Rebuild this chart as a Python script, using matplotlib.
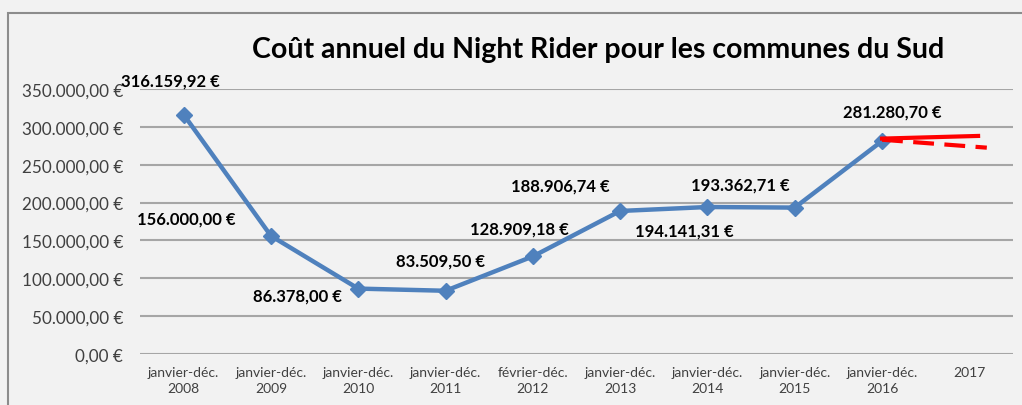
import matplotlib.pyplot as plt
from matplotlib.patches import Rectangle

categories = ['janvier-déc.\n2008', 'janvier-déc.\n2009', 'janvier-déc.\n2010', 'janvier-déc.\n2011',
              'février-déc.\n2012', 'janvier-déc.\n2013', 'janvier-déc.\n2014', 'janvier-déc.\n2015',
              'janvier-déc.\n2016', '2017']
costs = [316159.92, 156000.00, 86378.00, 83509.50, 128909.18, 188906.74, 194141.31, 193362.71, 281280.70]
labels = ['316.159,92 €', '156.000,00 €', '86.378,00 €', '83.509,50 €', '128.909,18 €',
          '188.906,74 €', '194.141,31 €', '193.362,71 €', '281.280,70 €']
# label offsets in pixels (dx, dy) from the point
offsets = [(-13, 34), (-85, 17), (-61, -7), (-5, 30), (-13, 28), (-60, 25), (-23, -24), (-54, 23), (10, 30)]
# red hand-drawn trend lines
trend_solid_x = [8.0, 9.1]
trend_solid_y = [284500, 288000]
trend_dash_x = [8.0, 9.2]
trend_dash_y = [283000, 272500]
yticks = [0, 50000, 100000, 150000, 200000, 250000, 300000, 350000]
ytick_labels = ['0,00 €', '50.000,00 €', '100.000,00 €', '150.000,00 €', '200.000,00 €',
                '250.000,00 €', '300.000,00 €', '350.000,00 €']

plt.rcParams['font.family'] = ['Lato', 'DejaVu Sans']

fig = plt.figure(figsize=(10.22, 4.06), dpi=100, facecolor='#f2f2f2')
fig.patches.append(Rectangle((8/1022, -0.1), 1.2, 1 - 14/406 + 0.1, transform=fig.transFigure,
                             fill=False, edgecolor='#8c8c8c', linewidth=1.5))
ax = fig.add_axes([140/1022, 51/406, 873/1022, 265/406])
ax.set_facecolor('#f2f2f2')

x = list(range(len(costs)))
ax.plot(x, costs, color='#4f81bd', linewidth=3.2, marker='D', markersize=8.5, zorder=3)
ax.plot(trend_solid_x, trend_solid_y, color='#ff0000', linewidth=3, zorder=4)
ax.plot(trend_dash_x, trend_dash_y, color='#ff0000', linewidth=3, linestyle=(0, (5, 2.5)), zorder=4)

for xi, yi, lab, (dx, dy) in zip(x, costs, labels, offsets):
    ax.annotate(lab, (xi, yi), xytext=(dx * 0.72, dy * 0.72), textcoords='offset points',
                ha='center', va='center', fontsize=12, fontweight='bold', color='black')

ax.set_xlim(-0.5, len(categories) - 0.5)
ax.set_ylim(0, 350000)
ax.set_xticks(range(len(categories)))
ax.set_xticklabels(categories, fontsize=10, color='#404040', linespacing=1.4)
ax.set_yticks(yticks)
ax.set_yticklabels(ytick_labels, fontsize=12.3, color='#404040')
ax.tick_params(length=0, pad=12)
ax.tick_params(axis='x', pad=9)
ax.grid(axis='y', color='#a6a6a6', linewidth=1.5)
ax.set_axisbelow(True)
for s in ax.spines.values():
    s.set_visible(False)

fig.text(598/1022, 1 - 50/406, 'Coût annuel du Night Rider pour les communes du Sud',
         ha='center', va='center', fontsize=20.5, fontweight='bold', color='black')

fig.savefig('out.png', dpi=100, facecolor=fig.get_facecolor())
